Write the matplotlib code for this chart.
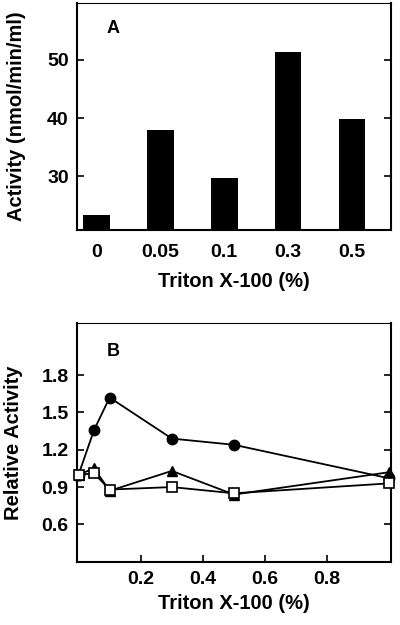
import matplotlib.pyplot as plt
import numpy as np

plt.rcParams['font.family'] = ['Liberation Sans', 'DejaVu Sans']
plt.rcParams['font.weight'] = 'bold'

# Panel A data
conc_labels = ['0', '0.05', '0.1', '0.3', '0.5']
activity = [23.2, 38.0, 29.6, 51.3, 39.8]

# Panel B data
triton_b = [0, 0.05, 0.1, 0.3, 0.5, 1.0]
circles = [1.0, 1.36, 1.62, 1.29, 1.24, 0.97]
triangles = [1.0, 1.05, 0.87, 1.03, 0.84, 1.02]
squares = [1.0, 1.01, 0.88, 0.90, 0.85, 0.93]

fig = plt.figure(figsize=(4, 6.25), dpi=100)

# ---- Panel A ----
axA = fig.add_axes([0.1925, 0.632, 0.785, 0.363])
x = np.arange(len(conc_labels))
axA.bar(x, activity, width=0.42, color='black')
axA.set_xlim(-0.3, 4.61)
axA.set_ylim(20.7, 59.8)
axA.set_xticks(x)
axA.set_xticklabels(conc_labels, fontsize=14, fontweight='bold')
axA.tick_params(axis='x', length=0, pad=10)
axA.set_yticks([30, 40, 50])
axA.tick_params(axis='y', direction='in', right=True, length=5, width=1.2,
                labelsize=14, pad=6)
axA.set_xlabel('Triton X-100 (%)', fontsize=14.5, fontweight='bold', labelpad=8)
axA.set_ylabel('Activity (nmol/min/ml)', fontsize=14.5, fontweight='bold', labelpad=15)
axA.text(0.095, 0.87, 'A', transform=axA.transAxes, fontsize=13, fontweight='bold')
for s in ['left', 'bottom', 'right']:
    axA.spines[s].set_linewidth(1.5)
axA.spines['top'].set_linewidth(0.8)

# ---- Panel B ----
axB = fig.add_axes([0.1925, 0.1013, 0.785, 0.382])
axB.plot(triton_b, circles, '-o', color='black', lw=1.3, ms=7.5, clip_on=False, zorder=3)
axB.plot(triton_b, triangles, '-^', color='black', lw=1.3, ms=7.5, clip_on=False, zorder=4)
axB.plot(triton_b, squares, '-s', color='black', mfc='white', mec='black', mew=1.2,
         lw=1.3, ms=7.5, clip_on=False, zorder=5)
axB.set_xlim(-0.005, 1.005)
axB.set_ylim(0.3, 2.22)
axB.set_xticks([0.2, 0.4, 0.6, 0.8])
axB.set_yticks([0.6, 0.9, 1.2, 1.5, 1.8])
axB.tick_params(axis='x', direction='in', length=5, width=1.2, labelsize=14, pad=7)
axB.tick_params(axis='y', direction='in', right=True, length=5, width=1.2,
                labelsize=14, pad=6)
axB.set_xlabel('Triton X-100 (%)', fontsize=14.5, fontweight='bold', labelpad=4)
axB.set_ylabel('Relative Activity', fontsize=14.5, fontweight='bold', labelpad=13)
axB.text(0.095, 0.86, 'B', transform=axB.transAxes, fontsize=13, fontweight='bold')
for s in ['left', 'bottom', 'right']:
    axB.spines[s].set_linewidth(1.5)
axB.spines['top'].set_linewidth(0.8)

fig.savefig('out.png', dpi=100)
